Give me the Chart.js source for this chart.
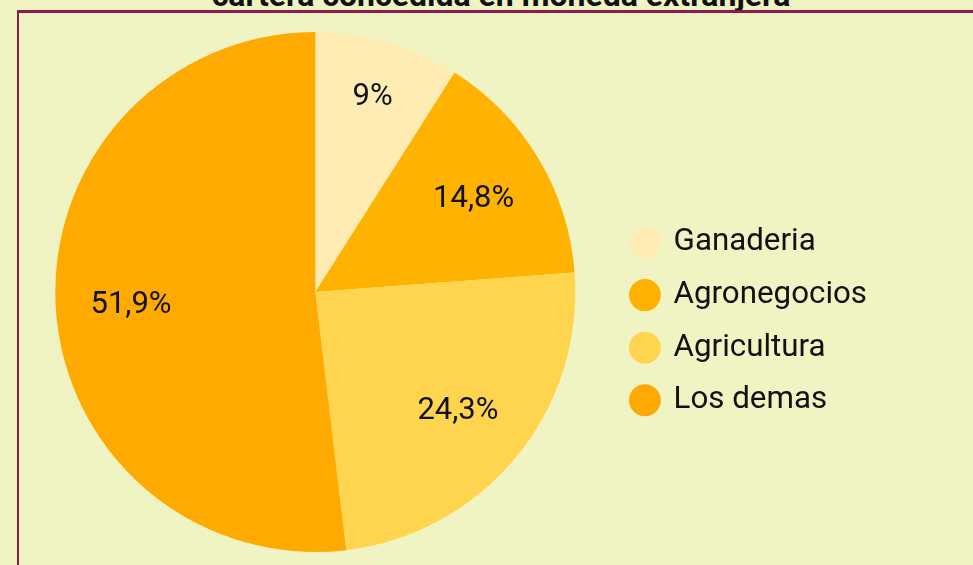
<!DOCTYPE html>
<html lang="es">
<head>
    <meta charset="UTF-8">
    <title>Cartera concedida en moneda extranjera</title>
    <script src="https://cdn.jsdelivr.net/npm/chart.js@4.4.1/dist/chart.umd.min.js"></script>
    <style>
        html, body {
            margin: 0;
            padding: 0;
            width: 973px;
            height: 565px;
            overflow: hidden;
            background: #f0f4c3;
            font-family: Roboto, sans-serif;
        }
        .title {
            position: absolute;
            left: 0;
            top: -21px;
            width: 1002px;
            text-align: center;
            font: bold 32px/32px Roboto, sans-serif;
            color: #111;
            z-index: 1;
        }
        .box {
            position: absolute;
            left: 17px;
            top: 10px;
            width: 1200px;
            height: 700px;
            border-top: 3px solid #8a1b50;
            border-left: 2px solid #8a1b50;
            background: #f0f4c3;
            z-index: 2;
        }
        .chart-wrap {
            position: absolute;
            left: 0;
            top: 0;
            width: 973px;
            height: 565px;
            z-index: 3;
        }
    </style>
</head>
<body>
    <div class="title">cartera concedida en moneda extranjera</div>
    <div class="box"></div>
    <div class="chart-wrap">
        <canvas id="pieChart"></canvas>
    </div>

    <script>
        // Distribucion de la cartera (%)
        const sectors = ['Ganaderia', 'Agronegocios', 'Agricultura', 'Los demas'];
        const shares = [9, 14.8, 24.3, 51.9];
        const sliceColors = ['#ffecb3', '#ffb300', '#ffd54f', '#ffaa00'];

        // labels inside the slices, written with a decimal comma
        const sliceLabels = {
            id: 'sliceLabels',
            afterDatasetsDraw(chart) {
                const ctx = chart.ctx;
                const meta = chart.getDatasetMeta(0);
                ctx.save();
                ctx.font = '31px Roboto';
                ctx.fillStyle = '#111';
                ctx.textAlign = 'center';
                ctx.textBaseline = 'middle';
                meta.data.forEach((arc, i) => {
                    const p = arc.getProps(['x', 'y', 'startAngle', 'endAngle', 'outerRadius'], true);
                    const mid = (p.startAngle + p.endAngle) / 2;
                    const k = (p.endAngle - p.startAngle) < 0.6 ? 0.79 : 0.71;
                    const r = p.outerRadius * k;
                    const text = String(shares[i]).replace('.', ',') + '%';
                    ctx.fillText(text, p.x + Math.cos(mid) * r, p.y + Math.sin(mid) * r + 2);
                });
                ctx.restore();
            }
        };

        const ctx = document.getElementById('pieChart').getContext('2d');
        new Chart(ctx, {
            type: 'pie',
            data: {
                labels: sectors,
                datasets: [{
                    data: shares,
                    backgroundColor: sliceColors,
                    borderWidth: 0,
                    hoverOffset: 0
                }]
            },
            options: {
                responsive: true,
                maintainAspectRatio: false,
                animation: false,
                layout: {
                    padding: { left: 20, right: 96, top: 32, bottom: 13 }
                },
                plugins: {
                    tooltip: { enabled: false },
                    legend: {
                        position: 'right',
                        title: {
                            display: true,
                            text: '',
                            font: { size: 49, lineHeight: 1.2 },
                            padding: 0
                        },
                        labels: {
                            usePointStyle: true,
                            pointStyle: 'circle',
                            boxWidth: 26,
                            boxHeight: 22.6,
                            padding: 21.3,
                            color: '#111',
                            font: { family: 'Roboto', size: 31.3 }
                        }
                    }
                }
            },
            plugins: [sliceLabels]
        });
    </script>
</body>
</html>
